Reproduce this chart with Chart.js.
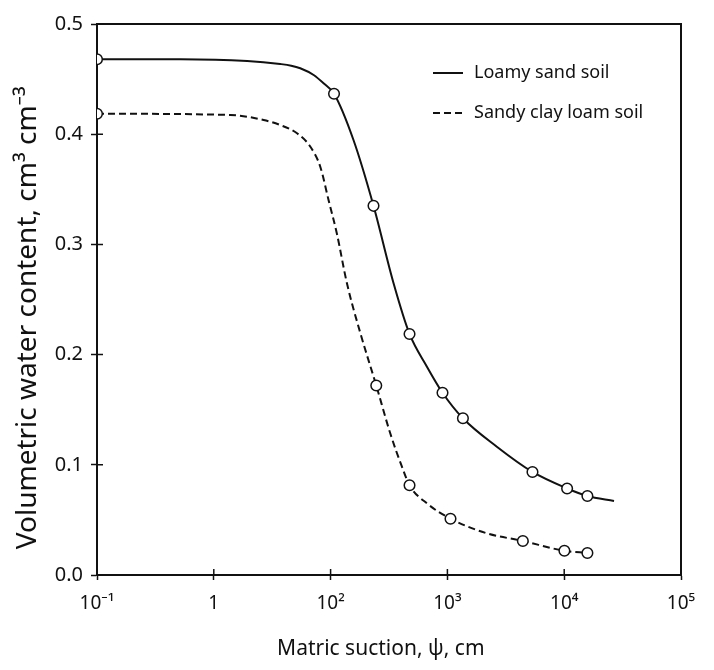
<!DOCTYPE html>
<html>
<head>
<meta charset="utf-8">
<title>Water retention curves</title>
<script src="https://cdn.jsdelivr.net/npm/chart.js"></script>
<style>
  html, body { margin: 0; padding: 0; background: #fff; }
  #wrap { width: 714px; height: 670px; position: relative; }
</style>
</head>
<body>
<div id="wrap"><canvas id="retentionChart"></canvas></div>
<script>
// tick positions on the log axis and the labels printed under them
const xTickValues = [1, 10, 100, 1000, 10000, 100000];
const xTickLabels = ["10\u207B\u00B9", "1", "10\u00B2", "10\u00B3", "10\u2074", "10\u2075"];

const seriesNames = ["Loamy sand soil", "Sandy clay loam soil"];

// fitted curves
const loamyCurveX = [1, 5.2, 19.3, 37, 46, 55, 71.6, 87, 107, 157, 233, 346, 474, 668, 908, 1358, 2650, 5350, 10590, 15800, 26700];
const loamyCurveY = [0.468, 0.468, 0.4664, 0.4637, 0.4622, 0.4598, 0.4537, 0.4462, 0.4367, 0.3947, 0.335, 0.2647, 0.2187, 0.189, 0.1654, 0.1422, 0.1164, 0.0935, 0.0785, 0.0717, 0.0672];

const sandyCurveX = [1, 13.9, 26.7, 37, 51.6, 67, 81.6, 96, 113, 138, 180, 246, 324, 408, 474, 668, 1063, 2178, 4425, 10040, 15800];
const sandyCurveY = [0.4186, 0.4174, 0.4129, 0.4083, 0.4008, 0.3887, 0.3705, 0.3403, 0.3101, 0.2647, 0.2193, 0.172, 0.1286, 0.0983, 0.0814, 0.065, 0.0511, 0.0378, 0.0309, 0.022, 0.020];

// measured points (open circles)
const loamyPtsX = [1, 107, 233, 474, 908, 1358, 5350, 10590, 15800];
const loamyPtsY = [0.468, 0.4367, 0.335, 0.2187, 0.1654, 0.1422, 0.0935, 0.0785, 0.0717];
const sandyPtsX = [1, 246, 474, 1063, 4425, 10040, 15800];
const sandyPtsY = [0.4186, 0.172, 0.0814, 0.0511, 0.0309, 0.022, 0.020];

const ink = "#111";
const font = "'Noto Sans', 'Open Sans', sans-serif";

function toPoints(xs, ys) {
  return xs.map((x, i) => ({ x: x, y: ys[i] }));
}

function curve(label, xs, ys, dash) {
  return {
    label: label,
    data: toPoints(xs, ys),
    showLine: true,
    borderColor: ink,
    borderWidth: 2,
    borderDash: dash,
    pointRadius: 0,
    cubicInterpolationMode: "monotone",
    order: 1
  };
}

function markers(label, xs, ys) {
  return {
    label: label,
    data: toPoints(xs, ys),
    showLine: false,
    pointRadius: 5.3,
    pointBackgroundColor: "#fff",
    pointBorderColor: ink,
    pointBorderWidth: 1.5,
    order: 0
  };
}

// legend sits inside the plot, top right
const legendInside = {
  id: "legendInside",
  afterDatasetsDraw(chart) {
    const ctx = chart.ctx;
    const curves = chart.data.datasets.filter(d => d.showLine);
    ctx.save();
    ctx.font = "18px " + font;
    ctx.textBaseline = "middle";
    ctx.fillStyle = ink;
    ctx.strokeStyle = ink;
    ctx.lineWidth = 2;
    curves.forEach((d, i) => {
      const y = 73 + i * 40;
      ctx.setLineDash(d.borderDash || []);
      ctx.beginPath();
      ctx.moveTo(433, y);
      ctx.lineTo(463, y);
      ctx.stroke();
      ctx.fillText(d.label, 474, y);
    });
    ctx.restore();
  }
};

// box on top/right plus the inner half of each tick mark
const frameAndTicks = {
  id: "frameAndTicks",
  afterDraw(chart) {
    const ctx = chart.ctx;
    const a = chart.chartArea;
    const xs = chart.scales.x;
    const ys = chart.scales.y;
    ctx.save();
    ctx.strokeStyle = ink;
    ctx.lineWidth = 2;
    ctx.beginPath();
    ctx.moveTo(a.left - 1, a.top);
    ctx.lineTo(a.right, a.top);
    ctx.lineTo(a.right, a.bottom + 1);
    ctx.stroke();
    ctx.lineWidth = 1.5;
    ctx.beginPath();
    xs.ticks.forEach(t => {
      const px = xs.getPixelForValue(t.value);
      ctx.moveTo(px, a.bottom);
      ctx.lineTo(px, a.bottom - 6);
    });
    ys.ticks.forEach(t => {
      const py = ys.getPixelForValue(t.value);
      ctx.moveTo(a.left, py);
      ctx.lineTo(a.left + 6, py);
    });
    ctx.stroke();
    ctx.restore();
  }
};

document.addEventListener("DOMContentLoaded", function() {
  const canvas = document.getElementById("retentionChart");

  new Chart(canvas, {
    type: "scatter",
    data: {
      datasets: [
        curve(seriesNames[0], loamyCurveX, loamyCurveY, []),
        curve(seriesNames[1], sandyCurveX, sandyCurveY, [7, 4]),
        markers(seriesNames[0] + " (measured)", loamyPtsX, loamyPtsY),
        markers(seriesNames[1] + " (measured)", sandyPtsX, sandyPtsY)
      ]
    },
    options: {
      responsive: true,
      maintainAspectRatio: false,
      animation: false,
      layout: { padding: { top: 24, right: 33, left: 0, bottom: 0 } },
      plugins: {
        legend: { display: false },
        tooltip: { enabled: false }
      },
      scales: {
        x: {
          type: "logarithmic",
          min: 1,
          max: 100000,
          afterBuildTicks: scale => {
            scale.ticks = xTickValues.map(v => ({ value: v }));
          },
          afterFit: scale => { scale.height = 95; },
          border: { display: true, color: ink, width: 2 },
          grid: { drawOnChartArea: false, tickLength: 5, tickColor: ink, tickWidth: 1.5 },
          ticks: {
            autoSkip: false,
            maxRotation: 0,
            padding: 12,
            color: ink,
            font: { family: font, size: 19 },
            callback: (value, index) => xTickLabels[index]
          },
          title: {
            display: true,
            text: "Matric suction, \u03C8, cm\u00A0\u00A0\u00A0",
            color: ink,
            font: { family: font, size: 21 },
            padding: { top: 0, bottom: 8 }
          }
        },
        y: {
          min: 0,
          max: 0.5,
          afterFit: scale => { scale.width = 97; },
          border: { display: true, color: ink, width: 2 },
          grid: { drawOnChartArea: false, tickLength: 6, tickColor: ink, tickWidth: 1.5 },
          ticks: {
            stepSize: 0.1,
            padding: 8,
            color: ink,
            font: { family: font, size: 20 },
            callback: value => value.toFixed(1)
          },
          title: {
            display: true,
            text: "Volumetric water content, cm\u00B3 cm\u207B\u00B3\u00A0\u00A0\u00A0\u00A0\u00A0",
            color: ink,
            font: { family: font, size: 28 },
            padding: { top: 11, bottom: 0 }
          }
        }
      }
    },
    plugins: [legendInside, frameAndTicks]
  });
});
</script>
</body>
</html>
